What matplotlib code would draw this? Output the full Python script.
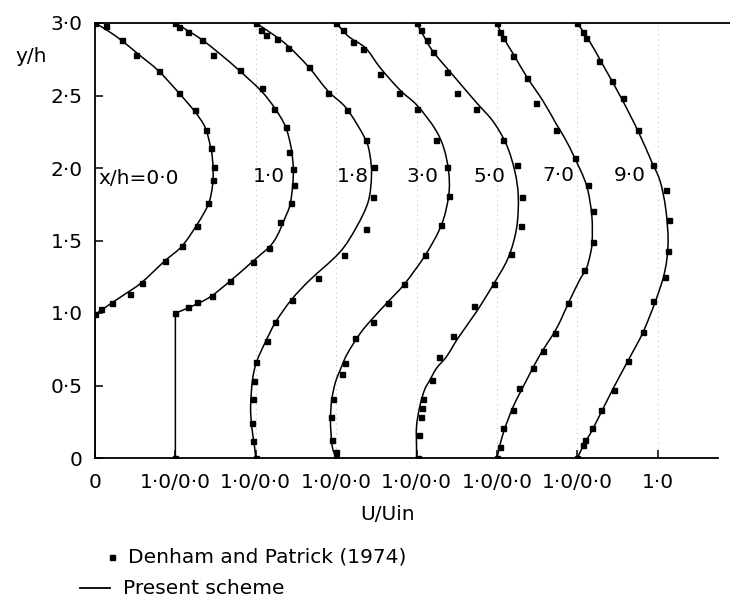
import matplotlib
matplotlib.use("Agg")
import matplotlib.pyplot as plt
from matplotlib.lines import Line2D
from matplotlib.path import Path
from matplotlib.patches import PathPatch

plt.rcParams['font.family'] = ['DejaVu Sans']

# station labels (x/h) and their text positions
stations = ['x/h=0·0', '1·0', '1·8', '3·0', '5·0', '7·0', '9·0']
label_x = [0.04, 2.16, 3.21, 4.07, 4.91, 5.76, 6.65]
label_y = [1.93, 1.94, 1.94, 1.94, 1.94, 1.95, 1.95]

# present scheme curves: local U/Uin, y/h
c0_u = [0, 0, 0.08, 0.21, 0.40, 0.58, 0.87, 1.08, 1.27, 1.41, 1.46, 1.47, 1.46, 1.44, 1.37, 1.24, 1.04, 0.79, 0.55, 0.33, 0.15, 0]
c0_y = [0, 0.99, 1.02, 1.07, 1.14, 1.21, 1.36, 1.46, 1.61, 1.75, 1.87, 1.97, 2.07, 2.14, 2.28, 2.39, 2.52, 2.67, 2.78, 2.88, 2.95, 3.0]
c1_u = [0, 0, 0.18, 0.43, 0.68, 0.97, 1.22, 1.38, 1.43, 1.46, 1.467, 1.44, 1.37, 1.24, 1.07, 0.80, 0.57, 0.33, 0.16, 0]
c1_y = [0, 1.0, 1.04, 1.11, 1.22, 1.36, 1.49, 1.676, 1.756, 1.883, 2.0, 2.14, 2.285, 2.41, 2.53, 2.67, 2.78, 2.885, 2.945, 3.0]
c2_u = [0, -0.02, -0.05, -0.064, -0.04, 0.011, 0.12, 0.25, 0.447, 0.674, 1.047, 1.255, 1.40, 1.44, 1.42, 1.358, 1.13, 0.90, 0.653, 0.404, 0.218, 0]
c2_y = [0, 0.10, 0.216, 0.354, 0.54, 0.664, 0.80, 0.94, 1.094, 1.228, 1.42, 1.595, 1.77, 1.95, 2.09, 2.205, 2.41, 2.53, 2.70, 2.84, 2.92, 3.0]
c3_u = [0, -0.045, -0.065, -0.07, -0.055, -0.01, 0.06, 0.14, 0.30, 0.45, 0.65, 0.85, 1.11, 1.31, 1.40, 1.40, 1.34, 1.23, 1.01, 0.79, 0.55, 0.37, 0.17, 0.08, 0]
c3_y = [0, 0.07, 0.18, 0.28, 0.40, 0.52, 0.62, 0.72, 0.86, 0.96, 1.08, 1.20, 1.40, 1.607, 1.81, 1.975, 2.136, 2.27, 2.43, 2.54, 2.69, 2.825, 2.90, 2.95, 3.0]
c4_u = [0, 0.0, 0.0, 0.04, 0.10, 0.167, 0.25, 0.374, 0.52, 0.747, 0.954, 1.14, 1.245, 1.266, 1.223, 1.12, 0.954, 0.747, 0.50, 0.21, 0.08, 0]
c4_y = [0, 0.078, 0.216, 0.354, 0.47, 0.538, 0.62, 0.70, 0.83, 1.01, 1.195, 1.38, 1.586, 1.805, 1.977, 2.16, 2.32, 2.45, 2.61, 2.80, 2.92, 3.0]
c5_u = [0, 0.078, 0.203, 0.37, 0.535, 0.742, 0.908, 1.032, 1.115, 1.16, 1.185, 1.18, 1.115, 0.97, 0.85, 0.742, 0.576, 0.37, 0.20, 0.08, 0]
c5_y = [0, 0.17, 0.354, 0.538, 0.71, 0.894, 1.09, 1.23, 1.31, 1.40, 1.49, 1.676, 1.88, 2.067, 2.20, 2.30, 2.46, 2.63, 2.79, 2.90, 3.0]
c6_u = [0, 0.09, 0.198, 0.447, 0.65, 0.82, 0.985, 1.09, 1.13, 1.10, 1.03, 0.92, 0.76, 0.55, 0.32, 0.157, 0]
c6_y = [0, 0.10, 0.205, 0.48, 0.69, 0.87, 1.10, 1.29, 1.49, 1.72, 1.91, 2.05, 2.25, 2.48, 2.71, 2.87, 3.0]

# Denham and Patrick (1974) measurements: local U/Uin, y/h
d0_u = [0, 0.137, 0.33, 0.51, 0.79, 1.04, 1.24, 1.38, 1.44, 1.48, 1.47, 1.41, 1.27, 1.08, 0.87, 0.58, 0.435, 0.21, 0.075, 0]
d0_y = [3.0, 2.98, 2.88, 2.78, 2.67, 2.52, 2.40, 2.26, 2.14, 2.01, 1.92, 1.76, 1.60, 1.46, 1.36, 1.21, 1.13, 1.07, 1.03, 0.99]
d1_u = [0, 0.05, 0.16, 0.327, 0.464, 0.804, 1.073, 1.23, 1.376, 1.417, 1.467, 1.479, 1.438, 1.30, 1.168, 0.969, 0.68, 0.45, 0.265, 0.16, 0, 0]
d1_y = [3.0, 2.97, 2.94, 2.885, 2.78, 2.678, 2.55, 2.41, 2.285, 2.11, 1.99, 1.88, 1.756, 1.63, 1.446, 1.35, 1.22, 1.12, 1.076, 1.04, 1.0, 0]
d2_u = [0, 0.06, 0.127, 0.26, 0.404, 0.665, 0.90, 1.13, 1.37, 1.474, 1.46, 1.37, 1.097, 0.77, 0.447, 0.24, 0.143, 0.0, -0.02, -0.035, -0.05, -0.035, 0]
d2_y = [3.0, 2.95, 2.92, 2.89, 2.83, 2.70, 2.515, 2.40, 2.19, 2.01, 1.80, 1.58, 1.40, 1.24, 1.09, 0.94, 0.81, 0.66, 0.53, 0.41, 0.24, 0.12, 0]
d3_u = [0, 0.09, 0.205, 0.337, 0.545, 0.78, 1.01, 1.24, 1.374, 1.407, 1.31, 1.11, 0.85, 0.648, 0.454, 0.234, 0.11, 0.068, -0.044, -0.07, -0.055, 0, 0]
d3_y = [3.0, 2.95, 2.87, 2.82, 2.65, 2.52, 2.41, 2.19, 2.01, 1.81, 1.607, 1.40, 1.20, 1.07, 0.94, 0.83, 0.657, 0.58, 0.41, 0.285, 0.124, 0.04, 0]
d4_u = [0, 0.05, 0.125, 0.208, 0.375, 0.507, 0.74, 1.07, 1.245, 1.307, 1.294, 1.174, 0.96, 0.714, 0.448, 0.282, 0.188, 0.076, 0.064, 0.05, 0.025, 0.02]
d4_y = [3.0, 2.95, 2.885, 2.80, 2.66, 2.52, 2.41, 2.19, 2.02, 1.80, 1.60, 1.41, 1.20, 1.046, 0.839, 0.70, 0.538, 0.41, 0.343, 0.285, 0.159, 0]
d5_u = [0, 0.037, 0.08, 0.20, 0.37, 0.485, 0.73, 0.97, 1.136, 1.198, 1.19, 1.082, 0.887, 0.72, 0.568, 0.452, 0.277, 0.195, 0.078, 0.037, 0]
d5_y = [3.0, 2.94, 2.90, 2.77, 2.62, 2.45, 2.265, 2.07, 1.88, 1.705, 1.49, 1.30, 1.07, 0.864, 0.738, 0.623, 0.485, 0.33, 0.205, 0.078, 0]
d6_u = [0, 0.066, 0.107, 0.273, 0.427, 0.563, 0.758, 0.94, 1.102, 1.144, 1.13, 1.094, 0.945, 0.82, 0.634, 0.463, 0.292, 0.182, 0.10, 0.066, 0]
d6_y = [3.0, 2.94, 2.90, 2.735, 2.60, 2.48, 2.26, 2.02, 1.85, 1.64, 1.43, 1.25, 1.08, 0.87, 0.668, 0.47, 0.33, 0.206, 0.127, 0.09, 0]

curves = [(c0_u, c0_y), (c1_u, c1_y), (c2_u, c2_y), (c3_u, c3_y), (c4_u, c4_y), (c5_u, c5_y), (c6_u, c6_y)]
data = [(d0_u, d0_y), (d1_u, d1_y), (d2_u, d2_y), (d3_u, d3_y), (d4_u, d4_y), (d5_u, d5_y), (d6_u, d6_y)]

xtick_pos = [0, 1, 2, 3, 4, 5, 6, 7]
xtick_lab = ['0', '1·0/0·0', '1·0/0·0', '1·0/0·0', '1·0/0·0', '1·0/0·0', '1·0/0·0', '1·0']
ytick_pos = [0, 0.5, 1.0, 1.5, 2.0, 2.5, 3.0]
ytick_lab = ['0', '0·5', '1·0', '1·5', '2·0', '2·5', '3·0']


def smooth_path(xs, ys, corners=()):
    # cubic bezier through the read points (catmull-rom style), corners kept sharp
    verts = [(xs[0], ys[0])]
    codes = [Path.MOVETO]
    n = len(xs)
    for k in range(n - 1):
        p0 = (xs[max(k - 1, 0)], ys[max(k - 1, 0)])
        p1 = (xs[k], ys[k])
        p2 = (xs[k + 1], ys[k + 1])
        p3 = (xs[min(k + 2, n - 1)], ys[min(k + 2, n - 1)])
        if k in corners:
            p0 = p1
        if k + 1 in corners:
            p3 = p2
        c1 = (p1[0] + (p2[0] - p0[0]) / 6, p1[1] + (p2[1] - p0[1]) / 6)
        c2 = (p2[0] - (p3[0] - p1[0]) / 6, p2[1] - (p3[1] - p1[1]) / 6)
        verts += [c1, c2, p2]
        codes += [Path.CURVE4] * 3
    return Path(verts, codes)


fs = 14.5
fig = plt.figure(figsize=(7.3, 6.01), dpi=100)
ax = fig.add_axes([95 / 730, 1 - 458 / 601, 635 / 730, 435 / 601])

# faint guide lines at each profile origin
for xp in xtick_pos[2:]:
    ax.plot([xp, xp], [0, 3], ls=(0, (1, 4)), color='#b8b8b8', lw=0.7, zorder=1)

for i, ((cu, cy), (du, dy)) in enumerate(zip(curves, data)):
    corners = (1,) if i < 2 else ()
    p = smooth_path([u + i for u in cu], cy, corners)
    ax.add_patch(PathPatch(p, fill=False, edgecolor='black', lw=1.1, zorder=3))
    ax.plot([u + i for u in du], dy, ls='none', marker='s', ms=3.6, color='black', zorder=4)

for s, lx, ly in zip(stations, label_x, label_y):
    ax.text(lx, ly, s, fontsize=fs, ha='left' if s.startswith('x') else 'center', va='center')

ax.set_xlim(0, 7.9)
ax.set_ylim(0, 3.0)
ax.spines['right'].set_visible(False)
ax.spines['bottom'].set_bounds(0, 7.75)
for sp in ['left', 'top', 'bottom']:
    ax.spines[sp].set_linewidth(1.3)
ax.set_xticks(xtick_pos)
ax.set_xticklabels(xtick_lab)
ax.set_yticks(ytick_pos)
ax.set_yticklabels(ytick_lab)
ax.tick_params(axis='both', direction='in', length=6, width=1.1, labelsize=fs)
ax.tick_params(axis='x', pad=11)
ax.tick_params(axis='y', pad=9)

fig.text(31 / 730, 1 - 56 / 601, 'y/h', fontsize=fs, ha='center', va='center')
fig.text(388 / 730, 1 - 515 / 601, 'U/Uin', fontsize=fs, ha='center', va='center')

# legend drawn by hand
fig.add_artist(Line2D([111.7 / 730], [1 - 556.7 / 601], marker='s', ms=3.6, color='black', ls='none'))
fig.text(128 / 730, 1 - 557 / 601, 'Denham and Patrick (1974)', fontsize=fs, ha='left', va='center')
fig.add_artist(Line2D([80 / 730, 110 / 730], [1 - 588 / 601, 1 - 588 / 601], color='black', lw=1.3))
fig.text(123 / 730, 1 - 588 / 601, 'Present scheme', fontsize=fs, ha='left', va='center')

fig.savefig('out.png', dpi=100)
